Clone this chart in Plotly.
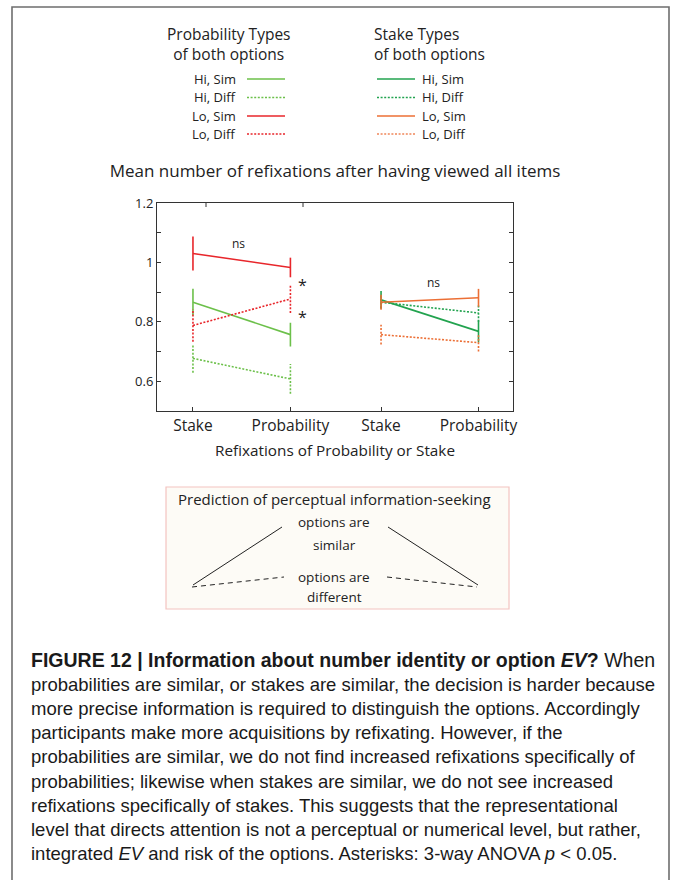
import plotly.graph_objects as go

# ---------------- data ----------------
tick_pos = [1, 2, 2.93, 3.93]
tick_labels = ["Stake", "Probability", "Stake", "Probability"]
y_tickvals = [0.6, 0.7, 0.8, 0.9, 1.0, 1.1, 1.2]
y_ticktext = ["0.6", "", "0.8", "", "1", "", "1.2"]

prob_x = [1, 2]
prob_hi_sim = [0.866, 0.757]
prob_hi_sim_err = [0.045, 0.040]
prob_hi_diff = [0.677, 0.608]
prob_hi_diff_err = [0.048, 0.050]
prob_lo_sim = [1.030, 0.983]
prob_lo_sim_err = [0.057, 0.033]
prob_lo_diff = [0.788, 0.877]
prob_lo_diff_err = [0.055, 0.047]

stake_x = [2.93, 3.93]
stake_hi_sim = [0.874, 0.768]
stake_hi_sim_err = [0.030, 0.037]
stake_hi_diff = [0.866, 0.830]
stake_hi_diff_err = [0.020, 0.030]
stake_lo_sim = [0.866, 0.881]
stake_lo_sim_err = [0.025, 0.030]
stake_lo_diff = [0.757, 0.730]
stake_lo_diff_err = [0.033, 0.030]

legend_labels = ["Hi, Sim", "Hi, Diff", "Lo, Sim", "Lo, Diff"]

# ---------------- styles ----------------
C_PGREEN = "#6cc04a"
C_PRED = "#e8262b"
C_SGREEN = "#22a34f"
C_SORANGE = "#ec6f35"
DOT = "2px,1.6px"
W = 673
H = 880
PL, PR, PT, PB = 157, 513, 203, 411
FONT = "Open Sans"
CAP_FONT = "Liberation Sans, Arial"

def px(x):
    return (x - PL) / (PR - PL)

def py(y):
    return (PB - y) / (PB - PT)

series = [
    (prob_x, prob_hi_sim, prob_hi_sim_err, C_PGREEN, "solid"),
    (prob_x, prob_hi_diff, prob_hi_diff_err, C_PGREEN, DOT),
    (prob_x, prob_lo_sim, prob_lo_sim_err, C_PRED, "solid"),
    (prob_x, prob_lo_diff, prob_lo_diff_err, C_PRED, DOT),
    (stake_x, stake_hi_sim, stake_hi_sim_err, C_SGREEN, "solid"),
    (stake_x, stake_hi_diff, stake_hi_diff_err, C_SGREEN, DOT),
    (stake_x, stake_lo_sim, stake_lo_sim_err, C_SORANGE, "solid"),
    (stake_x, stake_lo_diff, stake_lo_diff_err, C_SORANGE, DOT),
]

fig = go.Figure()
for xs, ys, es, col, dash in series:
    fig.add_trace(go.Scatter(x=xs, y=ys, mode="lines",
                             line=dict(color=col, width=1.6, dash=dash),
                             showlegend=False, hoverinfo="skip"))
    ex, ey = [], []
    for xv, yv, ev in zip(xs, ys, es):
        ex += [xv, xv, None]
        ey += [yv - ev, yv + ev, None]
    fig.add_trace(go.Scatter(x=ex, y=ey, mode="lines",
                             line=dict(color=col, width=1.6, dash=dash),
                             showlegend=False, hoverinfo="skip"))

shapes = []
annotations = []

# outer frame
shapes.append(dict(type="rect", xref="paper", yref="paper",
                   x0=px(12), x1=px(669), y0=py(7), y1=py(900),
                   line=dict(color="#6e6e6e", width=1.6), layer="below"))

# top ticks
for tx in [206, 303]:
    shapes.append(dict(type="line", xref="paper", yref="paper",
                       x0=px(tx), x1=px(tx), y0=1, y1=py(PT + 4),
                       line=dict(color="#333", width=1)))

# legend headers
annotations.append(dict(xref="paper", yref="paper", x=px(229), y=py(44),
                        text="Probability Types<br>of both options", showarrow=False,
                        xanchor="center", yanchor="middle", align="center",
                        font=dict(family=FONT, size=15.5, color="#222")))
annotations.append(dict(xref="paper", yref="paper", x=px(372), y=py(44),
                        text="Stake Types<br>of both options", showarrow=False,
                        xanchor="left", yanchor="middle", align="left",
                        font=dict(family=FONT, size=15.5, color="#222")))

rows_y = [79, 97.5, 116, 134]
left_cols = [C_PGREEN, C_PGREEN, C_PRED, C_PRED]
right_cols = [C_SGREEN, C_SGREEN, C_SORANGE, "#f0875a"]
dashes = ["solid", DOT, "solid", DOT]
for lab, ry, lc, rc, d in zip(legend_labels, rows_y, left_cols, right_cols, dashes):
    annotations.append(dict(xref="paper", yref="paper", x=px(238), y=py(ry),
                            text=lab, showarrow=False, xanchor="right", yanchor="middle",
                            font=dict(family=FONT, size=13, color="#222")))
    shapes.append(dict(type="line", xref="paper", yref="paper",
                       x0=px(247), x1=px(285), y0=py(ry), y1=py(ry),
                       line=dict(color=lc, width=1.5, dash=d)))
    shapes.append(dict(type="line", xref="paper", yref="paper",
                       x0=px(377), x1=px(415), y0=py(ry), y1=py(ry),
                       line=dict(color=rc, width=1.5, dash=d)))
    annotations.append(dict(xref="paper", yref="paper", x=px(420), y=py(ry),
                            text=lab, showarrow=False, xanchor="left", yanchor="middle",
                            font=dict(family=FONT, size=13, color="#222")))

# plot annotations
annotations.append(dict(x=1.47, y=1.063, text="ns", showarrow=False,
                        font=dict(family=FONT, size=12, color="#222")))
annotations.append(dict(x=3.47, y=0.933, text="ns", showarrow=False,
                        font=dict(family=FONT, size=12, color="#222")))
for sy in [0.925, 0.815]:
    annotations.append(dict(x=2.12, y=sy, text="*", showarrow=False,
                            font=dict(family=FONT, size=16, color="#222")))

# prediction box
shapes.append(dict(type="rect", xref="paper", yref="paper",
                   x0=px(166), x1=px(509), y0=py(487), y1=py(609),
                   line=dict(color="#f3c4c0", width=1.2), fillcolor="#fdfbf6", layer="below"))
annotations.append(dict(xref="paper", yref="paper", x=px(334), y=py(499),
                        text="Prediction of perceptual information-seeking", showarrow=False,
                        xanchor="center", yanchor="middle",
                        font=dict(family=FONT, size=15, color="#222")))
for t, ty in [("options are", 522), ("similar", 545), ("options are", 577), ("different", 597)]:
    annotations.append(dict(xref="paper", yref="paper", x=px(334), y=py(ty),
                            text=t, showarrow=False, xanchor="center", yanchor="middle",
                            font=dict(family=FONT, size=13.5, color="#222")))
for (x0, y0, x1, y1, d) in [(193, 585, 282, 527, "solid"), (388, 527, 478, 585, "solid"),
                            (192, 587, 284, 577, "5px,4px"), (387, 577, 477, 587, "5px,4px")]:
    shapes.append(dict(type="line", xref="paper", yref="paper",
                       x0=px(x0), x1=px(x1), y0=py(y0), y1=py(y1),
                       line=dict(color="#222", width=1, dash=d)))

# caption
cap_lines = [
    "<b>FIGURE 12 | Information about number identity or option <i>EV</i>?</b> When",
    "probabilities are similar, or stakes are similar, the decision is harder because",
    "more precise information is required to distinguish the options. Accordingly",
    "participants make more acquisitions by refixating. However, if the",
    "probabilities are similar, we do not find increased refixations specifically of",
    "probabilities; likewise when stakes are similar, we do not see increased",
    "refixations specifically of stakes. This suggests that the representational",
    "level that directs attention is not a perceptual or numerical level, but rather,",
    "integrated <i>EV</i> and risk of the options. Asterisks: 3-way ANOVA <i>p</i> &lt; 0.05.",
]
for i, line in enumerate(cap_lines):
    annotations.append(dict(xref="paper", yref="paper", x=px(29), y=py(660 + i * 24.2),
                            text=line, showarrow=False, xanchor="left", yanchor="middle",
                            font=dict(family=CAP_FONT, size=19.5 if i == 0 else 18.5,
                                      color="#1a1a1a")))

fig.update_layout(
    width=W, height=H, autosize=False,
    margin=dict(l=PL, r=W - PR, t=PT, b=H - PB, pad=0),
    paper_bgcolor="white", plot_bgcolor="white",
    font=dict(family=FONT, color="#222"),
    title=dict(text="Mean number of refixations after having viewed all items",
               x=0.5, xref="paper", xanchor="center", y=1 - 171 / H, yanchor="middle",
               font=dict(family=FONT, size=17, color="#222")),
    xaxis=dict(range=[0.631, 4.284], tickvals=tick_pos, ticktext=tick_labels,
               showgrid=False, zeroline=False, showline=True, linecolor="#333", linewidth=1,
               mirror=True, ticks="inside", ticklen=4, tickcolor="#333",
               tickfont=dict(family=FONT, size=15.5, color="#222"),
               title=dict(text="Refixations of Probability or Stake", standoff=10,
                          font=dict(family=FONT, size=15.3, color="#222"))),
    yaxis=dict(range=[0.5, 1.2], tickvals=y_tickvals, ticktext=y_ticktext,
               showgrid=False, zeroline=False, showline=True, linecolor="#333", linewidth=1,
               mirror="allticks", ticks="inside", ticklen=4, tickcolor="#333",
               tickfont=dict(family=FONT, size=13, color="#222")),
    shapes=shapes, annotations=annotations,
)

fig.write_html("out.html", config={"displayModeBar": False},
               post_script="document.body.style.margin='0px';")
